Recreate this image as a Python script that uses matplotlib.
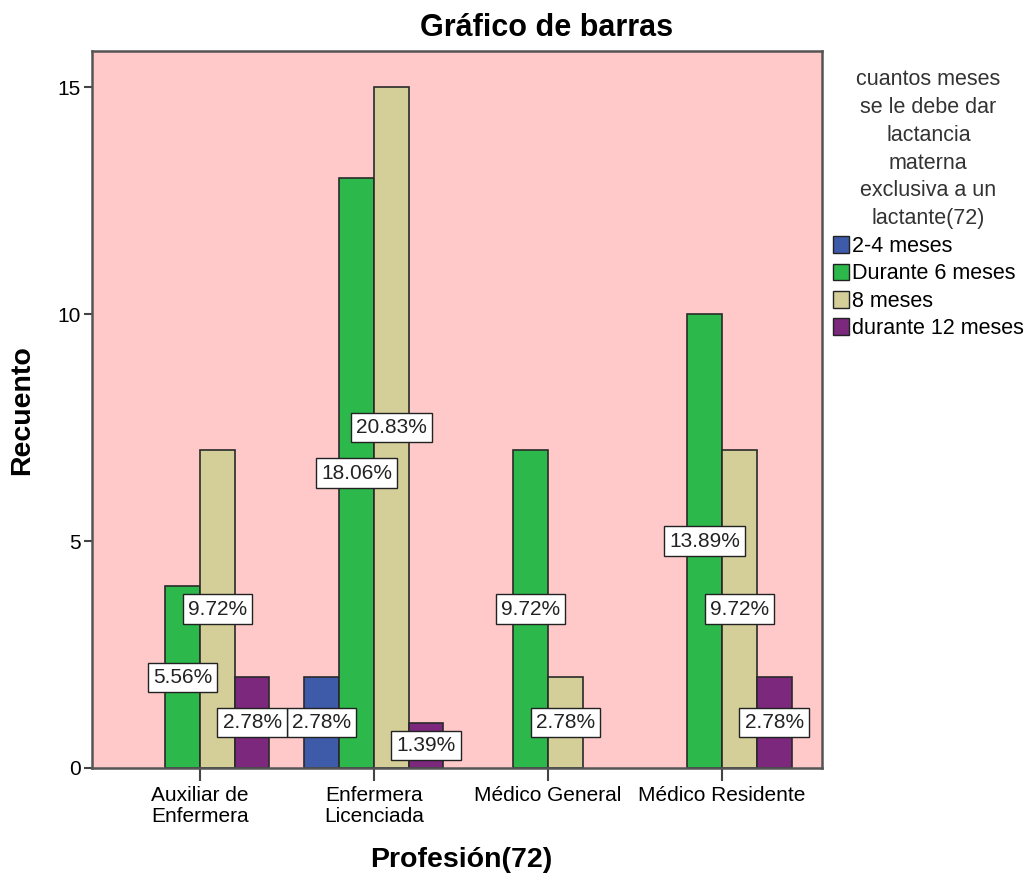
import matplotlib.pyplot as plt
from matplotlib.patches import Patch
import numpy as np

plt.rcParams['font.family'] = ['Liberation Sans', 'DejaVu Sans']

professions = ['Auxiliar de\nEnfermera', 'Enfermera\nLicenciada', 'Médico General', 'Médico Residente']
series_names = ['2-4 meses', 'Durante 6 meses', '8 meses', 'durante 12 meses']
counts = {
    '2-4 meses': [0, 2, 0, 0],
    'Durante 6 meses': [4, 13, 7, 10],
    '8 meses': [7, 15, 2, 7],
    'durante 12 meses': [2, 1, 0, 2],
}
total = 72
colors = ['#3E5BAA', '#2DB84B', '#D4CE98', '#7C287D']

fig = plt.figure(figsize=(10.29, 8.77), dpi=100)
ax = fig.add_axes([0.0894, 0.1243, 0.7094, 0.8175])
ax.set_facecolor('#FFC9C9')

x = np.arange(len(professions))
width = 0.2
offsets = [-0.3, -0.1, 0.1, 0.3]

for name, off, col in zip(series_names, offsets, colors):
    vals = counts[name]
    for xi, v in zip(x, vals):
        if v == 0:
            continue
        ax.bar(xi + off, v, width, color=col, edgecolor='#2a2a2a', linewidth=1.2, zorder=2)

# percentage labels at mid-height of each bar
for name, off in zip(series_names, offsets):
    for xi, v in zip(x, counts[name]):
        if v == 0:
            continue
        ax.text(xi + off, v / 2, f'{v / total * 100:.2f}%', ha='center', va='center',
                fontsize=15, color='#222222', zorder=3,
                bbox=dict(boxstyle='square,pad=0.25', facecolor='white', edgecolor='#222222', linewidth=1.0))

ax.set_xlim(-0.62, 3.575)
ax.set_ylim(0, 15.8)
ax.set_xticks(x)
ax.set_xticklabels(professions, fontsize=15, linespacing=1.1)
ax.set_yticks([0, 5, 10, 15])
ax.tick_params(axis='y', labelsize=15, length=6, width=1.5, color='#444444', pad=2)
ax.tick_params(axis='x', length=9, width=1.5, color='#444444', pad=4)

for sp in ax.spines.values():
    sp.set_color('#555555')
    sp.set_linewidth(1.8)

handles = [Patch(facecolor=c, edgecolor='#222222', linewidth=1.0) for c in colors]
leg = ax.legend(handles, series_names, loc='upper left', bbox_to_anchor=(1.0, 0.99),
                frameon=False, fontsize=15.5,
                title='cuantos meses\nse le debe dar\nlactancia\nmaterna\nexclusiva a un\nlactante(72)',
                title_fontsize=15.5, handlelength=0.75, handleheight=0.8, handletextpad=0.15,
                labelspacing=0.3, borderaxespad=0.3, borderpad=0.2)
leg.get_title().set_multialignment('center')
leg.get_title().set_linespacing(1.43)
leg.get_title().set_color('#333333')

fig.text(547 / 1029, 1 - 28 / 877, 'Gráfico de barras', ha='center', va='center',
         fontsize=22, fontweight='bold')
fig.text(22 / 1029, 1 - 410 / 877, 'Recuento', ha='center', va='center', rotation=90,
         fontsize=20.5, fontweight='bold')
fig.text(461 / 1029, 1 - 860 / 877, 'Profesión(72)', ha='center', va='center',
         fontsize=20.5, fontweight='bold')

fig.savefig('out.png', dpi=100)
